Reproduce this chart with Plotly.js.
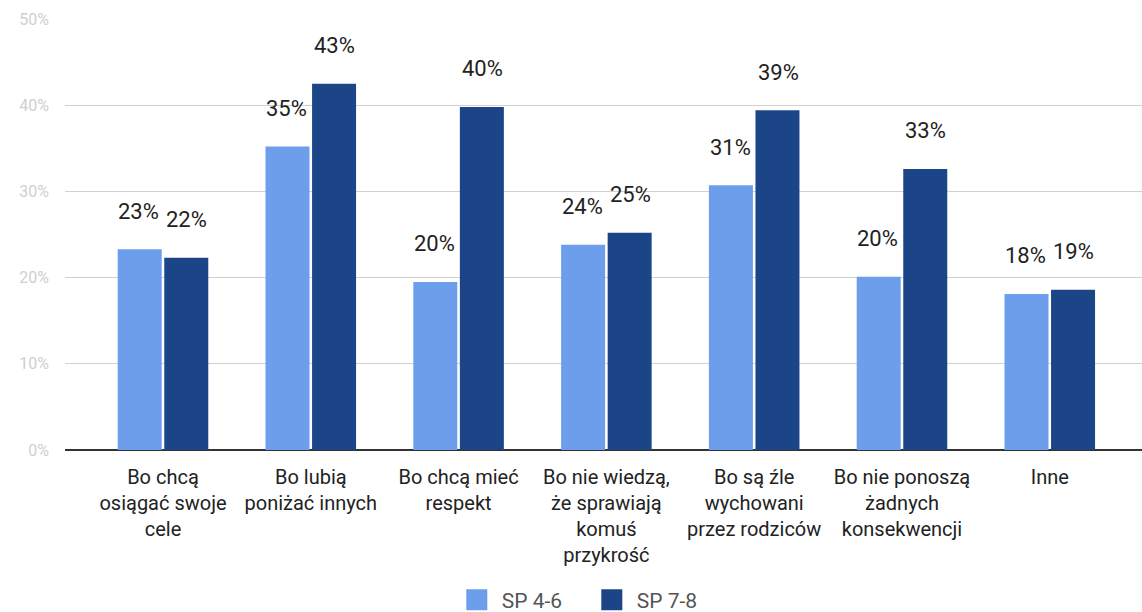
<!DOCTYPE html>
<html>
<head>
<meta charset="utf-8">
<script src="https://cdn.plot.ly/plotly-3.0.1.min.js"></script>
<style>html,body{margin:0;padding:0;background:#fff;}#chart{width:1142px;height:612px;}</style>
</head>
<body>
<div id="chart"></div>
<script>
const categories = [
  "Bo chcą<br>osiągać swoje<br>cele",
  "Bo lubią<br>poniżać innych",
  "Bo chcą mieć<br>respekt",
  "Bo nie wiedzą,<br>że sprawiają<br>komuś<br>przykrość",
  "Bo są źle<br>wychowani<br>przez rodziców",
  "Bo nie ponoszą<br>żadnych<br>konsekwencji",
  "Inne"
];
const seriesNames = ["SP 4-6", "SP 7-8"];
const sp46 = [23.3, 35.2, 19.5, 23.8, 30.7, 20.1, 18.1];
const sp78 = [22.3, 42.5, 39.8, 25.2, 39.4, 32.6, 18.6];
const sp46Labels = ["23%", "35%", "20%", "24%", "31%", "20%", "18%"];
const sp78Labels = ["22%", "43%", "40%", "25%", "39%", "33%", "19%"];
const yTickVals = [0, 10, 20, 30, 40, 50];
const yTickText = ["0%", "10%", "20%", "30%", "40%", "50%"];

const colors = ["#6d9eeb", "#1c4587"];
const FONT = "Roboto, 'Open Sans', sans-serif";

const traces = [
  {type: "bar", name: seriesNames[0], x: categories, y: sp46, marker: {color: colors[0]}, hoverinfo: "none", showlegend: false},
  {type: "bar", name: seriesNames[1], x: categories, y: sp78, marker: {color: colors[1]}, hoverinfo: "none", showlegend: false},
  // legend entries with larger square swatches
  {type: "scatter", mode: "markers", name: seriesNames[0], x: [null], y: [null],
   marker: {symbol: "square", size: 16, color: colors[0], line: {color: colors[0], width: 5}}, hoverinfo: "none"},
  {type: "scatter", mode: "markers", name: seriesNames[1], x: [null], y: [null],
   marker: {symbol: "square", size: 16, color: colors[1], line: {color: colors[1], width: 5}}, hoverinfo: "none"}
];

const annotations = [];
[[sp46, sp46Labels, -24], [sp78, sp78Labels, 24]].forEach(([vals, labs, dx]) => {
  vals.forEach((v, i) => {
    annotations.push({
      x: categories[i], y: v, xref: "x", yref: "y",
      text: labs[i], showarrow: false,
      xshift: dx, yshift: 38, yanchor: "middle", xanchor: "center",
      font: {family: FONT, size: 22, color: "#222"}
    });
  });
});

const layout = {
  width: 1142, height: 612,
  margin: {l: 65, r: 0, t: 19, b: 162, autoexpand: false},
  paper_bgcolor: "#fff", plot_bgcolor: "#fff",
  barmode: "group", bargap: 0.37, bargroupgap: 0.055,
  font: {family: FONT},
  xaxis: {
    type: "category",
    range: [-0.663, 6.624],
    showgrid: false,
    showline: false,
    tickfont: {family: FONT, size: 20, color: "#222"},
    ticks: "", ticklabelstandoff: 13,
    fixedrange: true
  },
  yaxis: {
    range: [0, 50],
    tickvals: yTickVals, ticktext: yTickText,
    tickfont: {family: FONT, size: 16, color: "#cfcfcf"},
    gridcolor: "#d0d0d0", gridwidth: 1,
    zeroline: true, zerolinecolor: "#333", zerolinewidth: 1.5,
    ticks: "", ticklabelstandoff: 15,
    fixedrange: true
  },
  legend: {
    orientation: "h", x: 0.4845, xanchor: "center", y: -0.348, yanchor: "middle",
    font: {family: FONT, size: 21, color: "#555"},
    itemwidth: 40, entrywidth: 80, traceorder: "normal"
  },
  annotations: annotations,
  showlegend: true
};

Plotly.newPlot("chart", traces, layout, {displayModeBar: false, staticPlot: true});
</script>
</body>
</html>
